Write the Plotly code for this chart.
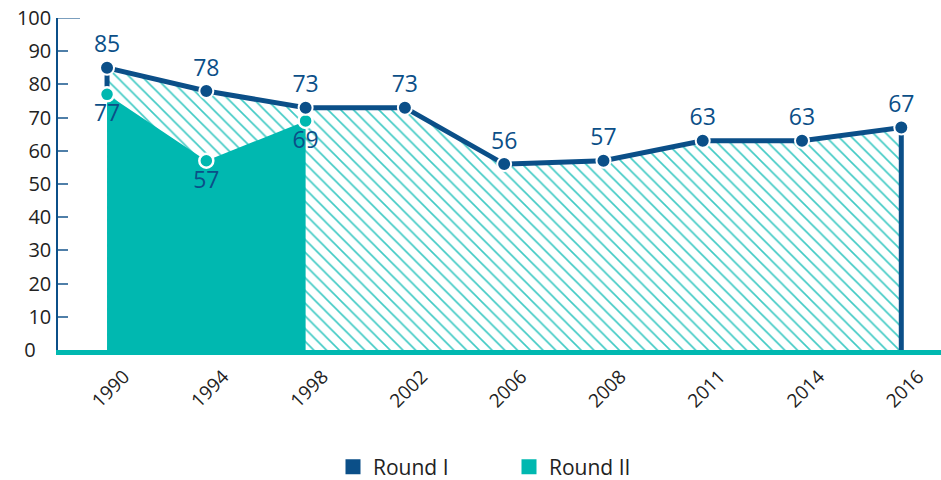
import plotly.graph_objects as go

years = ["1990", "1994", "1998", "2002", "2006", "2008", "2011", "2014", "2016"]
round1 = [85, 78, 73, 73, 56, 57, 63, 63, 67]
round2_years = ["1990", "1994", "1998"]
round2 = [77, 57, 69]
y_ticks = list(range(0, 101, 10))
y_ticktext = ["0\u00a0\u00a0\u00a0"] + [str(v) for v in y_ticks[1:]]

BLUE = "#0b4f88"
TEAL = "#00b8b0"
FONT = "Open Sans"

fig = go.Figure()

# Hatched area under Round I
fig.add_trace(go.Scatter(
    x=[years[0]] + years + [years[-1]],
    y=[0] + round1 + [0],
    mode="lines", line=dict(width=0, color=TEAL),
    fill="toself", fillcolor="rgba(0,0,0,0)",
    fillpattern=dict(shape="\\", fgcolor=TEAL, bgcolor="white", size=9, solidity=0.18, fgopacity=0.75),
    hoverinfo="skip", showlegend=False,
))

# Round I line
fig.add_trace(go.Scatter(
    x=[years[0]] + years + [years[-1]],
    y=[round2[0]] + round1 + [0],
    mode="lines", line=dict(width=5, color=BLUE),
    hoverinfo="skip", showlegend=False,
))

# Round II solid area
fig.add_trace(go.Scatter(
    x=[round2_years[0]] + round2_years + [round2_years[-1]],
    y=[0] + round2 + [0],
    mode="lines", line=dict(width=0, color=TEAL),
    fill="toself", fillcolor=TEAL,
    hoverinfo="skip", showlegend=False,
))

# Round II markers + labels
fig.add_trace(go.Scatter(
    x=round2_years, y=round2,
    mode="markers+text",
    marker=dict(size=14, color=TEAL, line=dict(color="white", width=2.5)),
    text=[str(v) for v in round2], textposition="bottom center",
    textfont=dict(family=FONT, size=23, color=BLUE),
    showlegend=False,
))

# Round I markers + labels
fig.add_trace(go.Scatter(
    x=years, y=round1,
    mode="markers+text",
    marker=dict(size=14, color=BLUE, line=dict(color="white", width=2)),
    text=[str(v) for v in round1], textposition="top center",
    textfont=dict(family=FONT, size=23, color=BLUE),
    showlegend=False,
))

# Legend entries
fig.add_trace(go.Scatter(x=[None], y=[None], mode="markers", name="Round I",
                         marker=dict(symbol="square", size=15, color=BLUE)))
fig.add_trace(go.Scatter(x=[None], y=[None], mode="markers", name="Round II",
                         marker=dict(symbol="square", size=15, color=TEAL)))

fig.add_shape(type="line", xref="paper", yref="y", x0=0, x1=22 / 883, y0=100, y1=100,
              line=dict(color="#4f7fa8", width=1.5))

fig.update_layout(
    width=941, height=480,
    margin=dict(l=58, r=0, t=18, b=130),
    plot_bgcolor="white", paper_bgcolor="white",
    font=dict(family=FONT, color="#222222"),
    xaxis=dict(
        type="category", categoryorder="array", categoryarray=years,
        range=[-0.494, 8.40], showgrid=False, zeroline=False,
        showline=True, linecolor=TEAL, linewidth=5,
        tickangle=-45, tickfont=dict(family=FONT, size=19, color="#222222"),
        ticks="", ticklabelstandoff=3, ticklabelshift=17, automargin=False,
    ),
    yaxis=dict(
        range=[0, 100], tickvals=y_ticks, ticktext=y_ticktext,
        showgrid=False, zeroline=False,
        showline=True, linecolor=BLUE, linewidth=1.5,
        ticks="inside", ticklen=10, tickcolor="#4f7fa8", tickwidth=1.5,
        tickfont=dict(family=FONT, size=20, color="#222222"),
        ticklabelstandoff=1, automargin=False, ticklabeloverflow="allow",
    ),
    legend=dict(orientation="h", x=(333 - 58) / 883, xanchor="left",
                yref="container", y=13 / 480, yanchor="middle",
                font=dict(family=FONT, size=21, color="#222222"),
                entrywidth=131, itemsizing="trace"),
)

fig.write_html("out.html", config={"displayModeBar": False},
               post_script="document.body.style.margin='0';")
